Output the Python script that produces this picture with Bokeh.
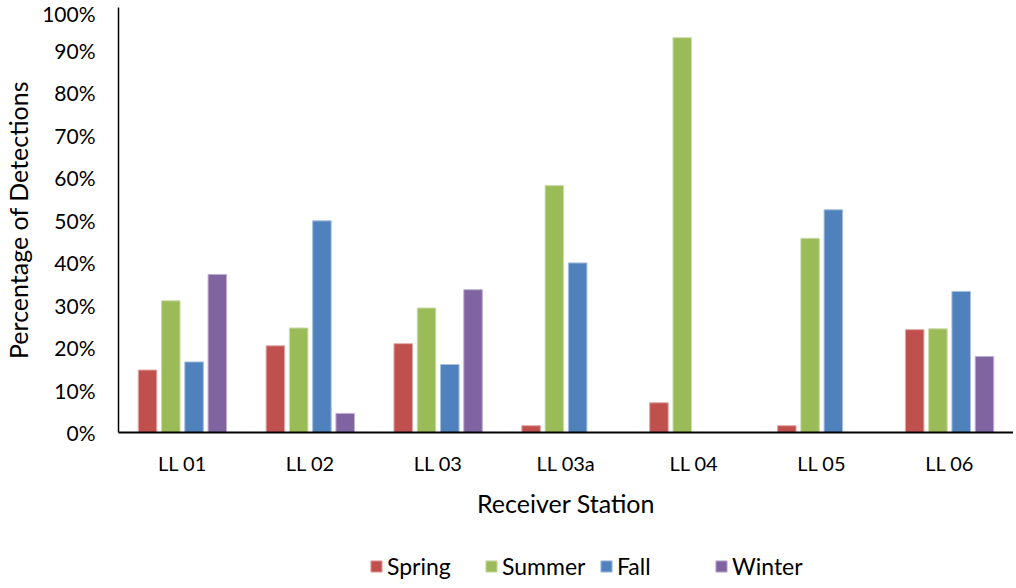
from bokeh.plotting import figure
from bokeh.layouts import column
from bokeh.models import ColumnDataSource, FactorRange, Range1d, Legend, LegendItem, FixedTicker
from bokeh.transform import dodge
from bokeh.embed import file_html
from bokeh.resources import INLINE

stations = ["LL 01", "LL 02", "LL 03", "LL 03a", "LL 04", "LL 05", "LL 06"]
spring = [14.7, 20.4, 20.9, 1.6, 7.0, 1.6, 24.2]
summer = [31.0, 24.6, 29.3, 58.1, 92.9, 45.7, 24.4]
fall = [16.6, 49.8, 16.0, 39.9, 0.0, 52.4, 33.2]
winter = [37.2, 4.5, 33.6, 0.0, 0.0, 0.0, 17.9]
seasons = ["Spring", "Summer", "Fall", "Winter"]
y_ticks = [0, 10, 20, 30, 40, 50, 60, 70, 80, 90, 100]

colors = ["#C0504D", "#9BBB59", "#4F81BD", "#8064A2"]
edges = ["#E3A9A7", "#CDDDAC", "#A7C0DE", "#BFB1D0"]
offsets = [-0.273, -0.091, 0.091, 0.273]
FONT = "Lato"

src = ColumnDataSource(dict(station=stations, Spring=spring, Summer=summer,
                            Fall=fall, Winter=winter))

p = figure(frame_width=895, frame_height=425, x_range=FactorRange(*stations),
           y_range=Range1d(0, 100), output_backend="svg", toolbar_location=None,
           min_border_left=113, min_border_right=0, min_border_top=7,
           min_border_bottom=98)
p.outline_line_color = None
p.grid.grid_line_color = None

for s, c, e, off in zip(seasons, colors, edges, offsets):
    p.vbar(x=dodge("station", off, range=p.x_range), top=s, width=0.145,
           source=src, fill_color=c, line_color=e, line_width=1)

# y axis
p.yaxis.ticker = FixedTicker(ticks=y_ticks)
p.yaxis.major_label_overrides = {t: f"{t}%" for t in y_ticks}
p.yaxis.axis_label = "Percentage of Detections"
p.yaxis.axis_line_color = "black"
p.yaxis.axis_line_width = 1.5
p.yaxis.major_tick_line_color = None
p.yaxis.minor_tick_line_color = None
p.yaxis.major_label_standoff = 17
p.yaxis.axis_label_standoff = 6
p.yaxis.major_label_text_font_size = "21px"

# x axis
p.xaxis.axis_label = "Receiver Station"
p.xaxis.axis_line_color = "black"
p.xaxis.axis_line_width = 2
p.xaxis.major_tick_line_color = None
p.xaxis.minor_tick_line_color = None
p.xaxis.major_label_standoff = 12
p.xaxis.axis_label_standoff = 10
p.xaxis.major_label_text_font_size = "20px"

for ax in (p.xaxis, p.yaxis):
    ax.major_label_text_font = FONT
    ax.major_label_text_color = "black"
    ax.axis_label_text_font = FONT
    ax.axis_label_text_font_size = "25px"
    ax.axis_label_text_font_style = "normal"
    ax.axis_label_text_color = "black"

# legend strip below the chart
pl = figure(width=1008, height=50, x_range=Range1d(0, 1), y_range=Range1d(0, 1),
            output_backend="svg", toolbar_location=None,
            x_axis_location=None, y_axis_location=None,
            min_border_left=0, min_border_right=0, min_border_top=0, min_border_bottom=0)
pl.grid.grid_line_color = None
pl.outline_line_color = None
# legend proxies (no visible mark: NaN height)
proxy = ColumnDataSource(dict(x=[0.5], top=[float("nan")]))
leg_rs = [pl.vbar(x="x", top="top", width=0.1, source=proxy, fill_color=c, line_color=e)
          for c, e in zip(colors, edges)]

legend = Legend(items=[LegendItem(label=s, renderers=[r]) for s, r in zip(seasons, leg_rs)],
                orientation="horizontal", location=(251, 0))
legend.border_line_color = None
legend.background_fill_alpha = 0
legend.padding = 0
legend.margin = 0
legend.spacing = 0
legend.glyph_width = 14
legend.glyph_height = 14
legend.label_standoff = 4
legend.label_width = 97
legend.label_text_font = FONT
legend.label_text_font_size = "23px"
legend.label_text_color = "black"
pl.add_layout(legend)

open("out.html", "w").write(file_html(column(p, pl, spacing=0), INLINE))
